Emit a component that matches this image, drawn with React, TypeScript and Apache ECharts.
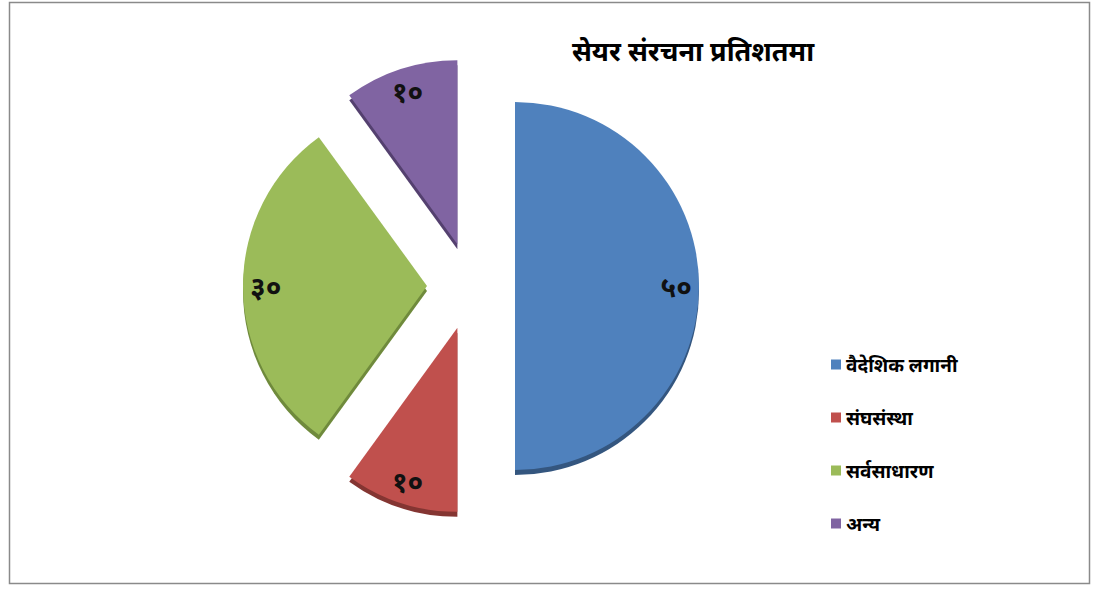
import React, { useEffect, useRef } from "react";
import * as echarts from "echarts";

const titleText = "सेयर संरचना प्रतिशतमा";
const categories = ["वैदेशिक लगानी", "संघसंस्था", "सर्वसाधारण", "अन्य"];
const values = [50, 10, 30, 10];
const colors = ["#4F81BD", "#C0504D", "#9BBB59", "#8064A2"];
const sideColors = ["#34567F", "#843532", "#6F8A3C", "#54406F"];

const devDigits = ["०", "१", "२", "३", "४", "५", "६", "७", "८", "९"];
const toDev = (n: number) =>
  String(n)
    .split("")
    .map((c) => (c >= "0" && c <= "9" ? devDigits[+c] : c))
    .join("");

const FONT = "'Noto Sans', 'DejaVu Sans', sans-serif";

export default function App() {
  const ref = useRef<HTMLDivElement>(null);
  useEffect(() => {
    if (!ref.current) return;
    const chart = echarts.init(ref.current, null, { renderer: "svg" });
    const cx = 471;
    const cy = 286;
    const R = 184;
    const offset = 44;
    const depth = 5;
    const mk = (cols: string[]) =>
      categories.map((name, i) => ({
        name,
        value: values[i],
        selected: true,
        itemStyle: { color: cols[i] },
      }));
    const common = {
      type: "pie" as const,
      startAngle: 90,
      clockwise: true,
      selectedMode: "multiple" as const,
      selectedOffset: offset,
      avoidLabelOverlap: false,
      emphasis: { disabled: true },
      animation: false,
    };
    chart.setOption({
      animation: false,
      backgroundColor: "#ffffff",
      title: {
        text: titleText,
        left: 688,
        top: 32,
        textAlign: "center",
        textStyle: { fontSize: 27, fontWeight: "bold", color: "#000", fontFamily: FONT },
      },
      legend: {
        orient: "vertical",
        left: 826,
        top: 350,
        itemWidth: 10,
        itemHeight: 10,
        itemGap: 34,
        icon: "rect",
        selectedMode: false,
        data: categories,
        textStyle: { fontSize: 19, fontWeight: "bold", color: "#000", fontFamily: FONT },
      },
      graphic: [
        {
          type: "rect",
          shape: { x: 9.5, y: 2.5, width: 1080, height: 581 },
          style: { fill: "none", stroke: "#8a8a8a", lineWidth: 1.5 },
          silent: true,
        },
      ],
      series: [
        {
          ...common,
          name: "main",
          z: 3,
          center: [cx, cy],
          radius: [0, R],
          label: { show: false },
          labelLine: { show: false },
          data: mk(colors),
          select: { itemStyle: {} },
        },
        {
          ...common,
          name: "side",
          z: 2,
          silent: true,
          center: [cx, cy + depth],
          radius: [0, R],
          label: { show: false },
          labelLine: { show: false },
          data: mk(sideColors),
          select: { itemStyle: {} },
        },
        {
          ...common,
          name: "labels",
          z: 4,
          silent: true,
          center: [cx, cy],
          radius: [R * 0.72, R],
          itemStyle: { color: "rgba(0,0,0,0)" },
          label: {
            show: true,
            position: "inside",
            formatter: (p: any) => toDev(p.value),
            fontSize: 28,
            fontWeight: "bold",
            color: "#111",
            fontFamily: FONT,
          },
          labelLine: { show: false },
          data: categories.map((name, i) => ({
            name,
            value: values[i],
            selected: true,
            itemStyle: { color: "rgba(0,0,0,0)" },
          })),
          select: { itemStyle: { color: "rgba(0,0,0,0)" } },
        },
      ],
    });
    return () => chart.dispose();
  }, []);
  return (
    <div
      ref={ref}
      style={{ position: "fixed", left: 0, top: 0, width: 1100, height: 590 }}
    />
  );
}
